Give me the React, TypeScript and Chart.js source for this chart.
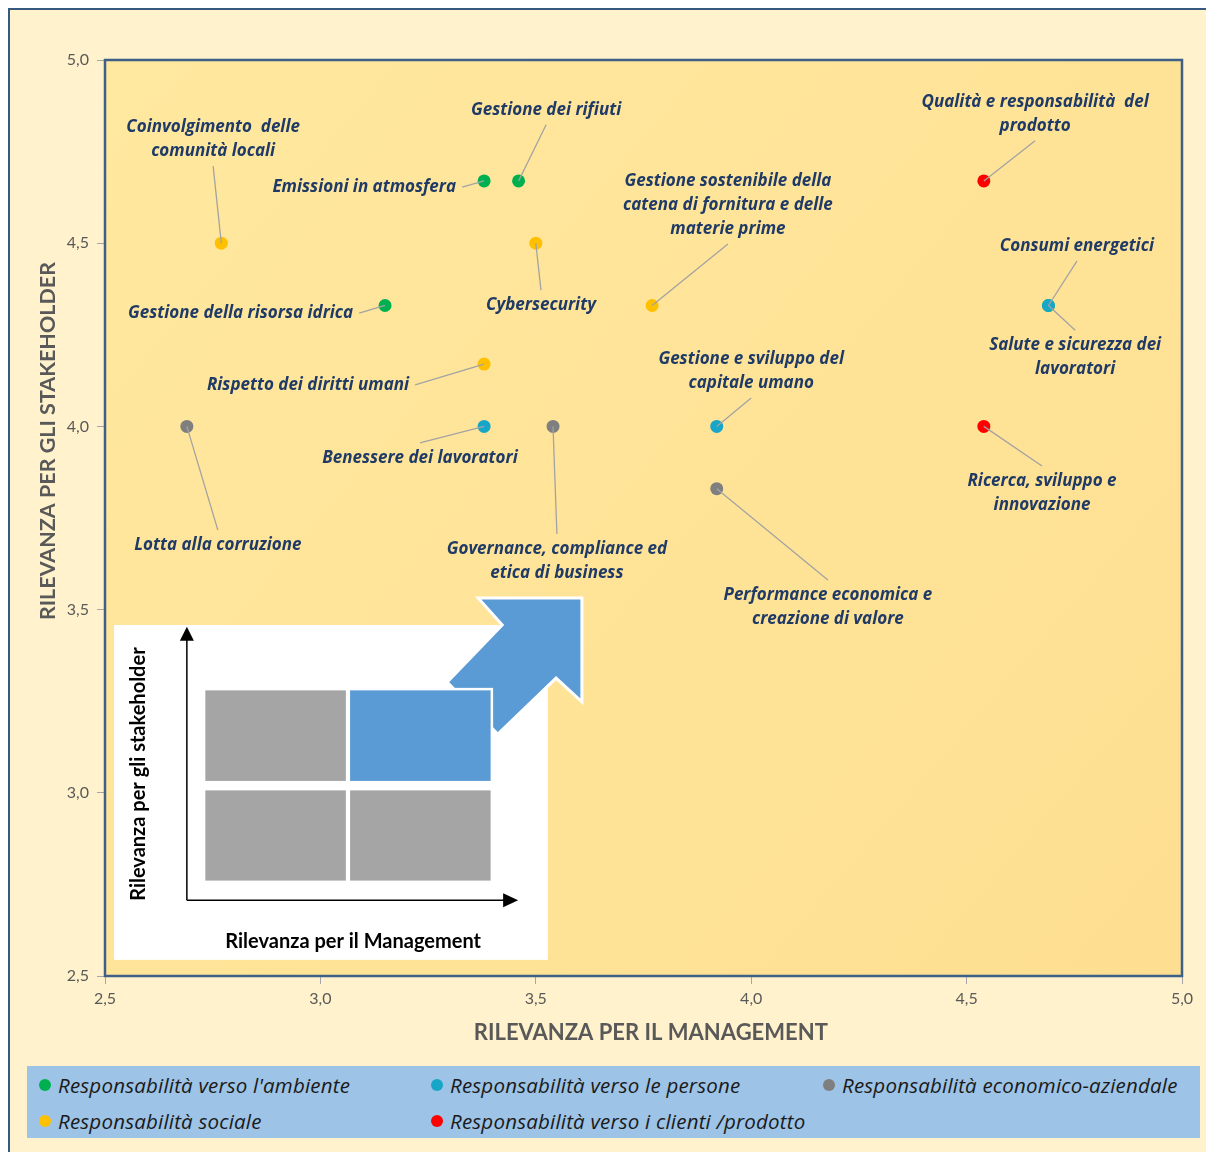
import React, { useEffect, useRef } from "react";
import { Chart, registerables } from "chart.js";

Chart.register(...registerables);

// ---- axis ----
const axisMin = 2.5;
const axisMax = 5.0;
const axisStep = 0.5;
const xAxisTitle = "RILEVANZA PER IL MANAGEMENT";
const yAxisTitle = "RILEVANZA PER GLI STAKEHOLDER";

// ---- series ----
const seriesNames = [
  "Responsabilità verso l'ambiente",
  "Responsabilità verso le persone",
  "Responsabilità economico-aziendale",
  "Responsabilità sociale",
  "Responsabilità verso i clienti /prodotto",
];
const seriesColors = ["#00B050", "#17A6C8", "#7F7F7F", "#FFC000", "#FF0000"];

const ambienteTopics = ["Emissioni in atmosfera", "Gestione dei rifiuti", "Gestione della risorsa idrica", "Consumi energetici"];
const ambienteX = [3.38, 3.46, 3.15, 4.69];
const ambienteY = [4.67, 4.67, 4.33, 4.33];

const personeTopics = ["Salute e sicurezza dei\nlavoratori", "Benessere dei lavoratori", "Gestione e sviluppo del\ncapitale umano"];
const personeX = [4.69, 3.38, 3.92];
const personeY = [4.33, 4.0, 4.0];

const economicoTopics = ["Lotta alla corruzione", "Governance, compliance ed\netica di business", "Performance economica e\ncreazione di valore"];
const economicoX = [2.69, 3.54, 3.92];
const economicoY = [4.0, 4.0, 3.83];

const socialeTopics = ["Coinvolgimento  delle\ncomunità locali", "Cybersecurity", "Gestione sostenibile della\ncatena di fornitura e delle\nmaterie prime", "Rispetto dei diritti umani"];
const socialeX = [2.77, 3.5, 3.77, 3.38];
const socialeY = [4.5, 4.5, 4.33, 4.17];

const clientiTopics = ["Qualità e responsabilità  del\nprodotto", "Ricerca, sviluppo e\ninnovazione"];
const clientiX = [4.54, 4.54];
const clientiY = [4.67, 4.0];

const seriesTopics = [ambienteTopics, personeTopics, economicoTopics, socialeTopics, clientiTopics];
const seriesX = [ambienteX, personeX, economicoX, socialeX, clientiX];
const seriesY = [ambienteY, personeY, economicoY, socialeY, clientiY];

// ---- label placement (data coordinates; side = where the leader line leaves the text) ----
const labelPlacement: { topic: string; lx: number; ly: number; side: "top" | "bottom" | "right" }[] = [
  { topic: "Coinvolgimento  delle\ncomunità locali", lx: 2.751, ly: 4.784, side: "bottom" },
  { topic: "Emissioni in atmosfera", lx: 3.315, ly: 4.653, side: "right" },
  { topic: "Gestione dei rifiuti", lx: 3.524, ly: 4.864, side: "bottom" },
  { topic: "Gestione sostenibile della\ncatena di fornitura e delle\nmaterie prime", lx: 3.946, ly: 4.604, side: "bottom" },
  { topic: "Qualità e responsabilità  del\nprodotto", lx: 4.659, ly: 4.853, side: "bottom" },
  { topic: "Consumi energetici", lx: 4.756, ly: 4.492, side: "bottom" },
  { topic: "Cybersecurity", lx: 3.512, ly: 4.331, side: "top" },
  { topic: "Gestione della risorsa idrica", lx: 3.076, ly: 4.309, side: "right" },
  { topic: "Salute e sicurezza dei\nlavoratori", lx: 4.752, ly: 4.189, side: "top" },
  { topic: "Rispetto dei diritti umani", lx: 3.206, ly: 4.113, side: "right" },
  { topic: "Gestione e sviluppo del\ncapitale umano", lx: 4.0, ly: 4.151, side: "bottom" },
  { topic: "Benessere dei lavoratori", lx: 3.231, ly: 3.914, side: "top" },
  { topic: "Lotta alla corruzione", lx: 2.762, ly: 3.676, side: "top" },
  { topic: "Governance, compliance ed\netica di business", lx: 3.549, ly: 3.633, side: "top" },
  { topic: "Ricerca, sviluppo e\ninnovazione", lx: 4.675, ly: 3.818, side: "top" },
  { topic: "Performance economica e\ncreazione di valore", lx: 4.178, ly: 3.507, side: "top" },
];

// ---- inset legend graphic ----
const insetTitleX = "Rilevanza per il Management";
const insetTitleY = "Rilevanza per gli stakeholder";

const fmt = (v: number) => v.toFixed(1).replace(".", ",");

const LABEL_FONT = "italic 700 17px 'Open Sans'";
const LABEL_COLOR = "#1F3A66";
const LINE_H = 24;

const decorPlugin = {
  id: "decor",
  beforeDraw(chart: any) {
    const { ctx, chartArea: a } = chart;
    ctx.save();
    const g = ctx.createLinearGradient(a.left, a.top, a.right, a.bottom);
    g.addColorStop(0, "#FFE89F");
    g.addColorStop(1, "#FEDF91");
    ctx.fillStyle = g;
    ctx.fillRect(a.left, a.top, a.right - a.left, a.bottom - a.top);
    ctx.restore();
  },
  beforeDatasetsDraw(chart: any) {
    const { ctx } = chart;
    const X = (v: number) => chart.scales.x.getPixelForValue(v);
    const Y = (v: number) => chart.scales.y.getPixelForValue(v);
    ctx.save();
    // white box
    ctx.fillStyle = "#FFFFFF";
    ctx.fillRect(X(2.521), Y(3.458), X(3.528) - X(2.521), Y(2.544) - Y(3.458));
    // big arrow (behind the quadrants)
    const poly: [number, number][] = [
      [3.366, 3.532],
      [3.607, 3.532],
      [3.607, 3.248],
      [3.547, 3.313],
      [3.412, 3.16],
      [3.294, 3.302],
      [3.422, 3.458],
    ];
    ctx.beginPath();
    poly.forEach(([px, py], i) => (i ? ctx.lineTo(X(px), Y(py)) : ctx.moveTo(X(px), Y(py))));
    ctx.closePath();
    ctx.fillStyle = "#5B9BD5";
    ctx.fill();
    ctx.strokeStyle = "#FFFFFF";
    ctx.lineWidth = 3;
    ctx.lineJoin = "miter";
    ctx.stroke();
    // quadrants
    const cells: [number, number, number, number, string][] = [
      [2.73, 3.062, 3.029, 3.283, "#A5A5A5"],
      [3.066, 3.398, 3.029, 3.283, "#5B9BD5"],
      [2.73, 3.062, 2.757, 3.01, "#A5A5A5"],
      [3.066, 3.398, 2.757, 3.01, "#A5A5A5"],
    ];
    cells.forEach(([x0, x1, y0, y1, c]) => {
      ctx.fillStyle = c;
      ctx.strokeStyle = "#FFFFFF";
      ctx.lineWidth = 2.5;
      ctx.fillRect(X(x0), Y(y1), X(x1) - X(x0), Y(y0) - Y(y1));
      ctx.strokeRect(X(x0), Y(y1), X(x1) - X(x0), Y(y0) - Y(y1));
    });
    // axes arrows
    const ox = X(2.69), oy = Y(2.707);
    const topY = Y(3.453), endX = X(3.459);
    ctx.strokeStyle = "#000";
    ctx.fillStyle = "#000";
    ctx.lineWidth = 1.5;
    ctx.beginPath();
    ctx.moveTo(ox, oy);
    ctx.lineTo(ox, topY + 12);
    ctx.moveTo(ox, oy);
    ctx.lineTo(endX - 12, oy);
    ctx.stroke();
    ctx.beginPath();
    ctx.moveTo(ox, topY);
    ctx.lineTo(ox - 7, topY + 14);
    ctx.lineTo(ox + 7, topY + 14);
    ctx.closePath();
    ctx.fill();
    ctx.beginPath();
    ctx.moveTo(endX, oy);
    ctx.lineTo(endX - 15, oy - 7);
    ctx.lineTo(endX - 15, oy + 7);
    ctx.closePath();
    ctx.fill();
    // inset texts
    ctx.font = "700 20px Lato";
    ctx.textAlign = "center";
    ctx.textBaseline = "middle";
    ctx.fillText(insetTitleX, X(3.076), Y(2.593));
    ctx.save();
    ctx.translate(X(2.579), Y(3.051));
    ctx.rotate(-Math.PI / 2);
    ctx.fillText(insetTitleY, 0, 0);
    ctx.restore();
    ctx.restore();
  },
  afterDatasetsDraw(chart: any) {
    const { ctx } = chart;
    const X = (v: number) => chart.scales.x.getPixelForValue(v);
    const Y = (v: number) => chart.scales.y.getPixelForValue(v);
    ctx.save();
    ctx.font = LABEL_FONT;
    seriesTopics.forEach((topics, si) => {
      topics.forEach((topic, i) => {
        const p = labelPlacement.find((l) => l.topic === topic);
        if (!p) return;
        const lines = topic.split("\n");
        const cx = X(p.lx), cy = Y(p.ly);
        const n = lines.length;
        const firstY = cy - ((n - 1) * LINE_H) / 2;
        const lastY = cy + ((n - 1) * LINE_H) / 2;
        let sx = cx, sy = cy;
        if (p.side === "bottom") sy = lastY + 15;
        else if (p.side === "top") sy = firstY - 15;
        else sx = cx + 6;
        const px = X(seriesX[si][i]), py = Y(seriesY[si][i]);
        ctx.strokeStyle = "#A3A3A3";
        ctx.lineWidth = 1.3;
        ctx.beginPath();
        ctx.moveTo(sx, sy);
        ctx.lineTo(px, py);
        ctx.stroke();
        ctx.fillStyle = LABEL_COLOR;
        ctx.textBaseline = "middle";
        ctx.textAlign = p.side === "right" ? "right" : "center";
        lines.forEach((ln, k) => ctx.fillText(ln, cx, firstY + k * LINE_H));
      });
    });
    ctx.restore();
  },
  afterDraw(chart: any) {
    const { ctx, chartArea: a } = chart;
    const X = (v: number) => chart.scales.x.getPixelForValue(v);
    const Y = (v: number) => chart.scales.y.getPixelForValue(v);
    ctx.save();
    ctx.strokeStyle = "#3E5F86";
    ctx.lineWidth = 2.5;
    ctx.strokeRect(a.left, a.top, a.right - a.left, a.bottom - a.top);
    ctx.fillStyle = "#595959";
    ctx.font = "700 22px Lato";
    ctx.textAlign = "center";
    ctx.textBaseline = "middle";
    ctx.fillText(xAxisTitle, X(3.767), a.bottom + 57);
    ctx.font = "700 21.5px Lato";
    ctx.translate(a.left - 57, Y(3.96));
    ctx.rotate(-Math.PI / 2);
    ctx.fillText(yAxisTitle, 0, 0);
    ctx.restore();
  },
};

export default function App() {
  const ref = useRef<HTMLCanvasElement | null>(null);

  useEffect(() => {
    if (!ref.current) return;
    const datasets = seriesNames.map((name, si) => ({
      label: name,
      data: seriesX[si].map((x, i) => ({ x, y: seriesY[si][i] })),
      backgroundColor: seriesColors[si],
      borderColor: seriesColors[si],
      borderWidth: 0,
      pointRadius: 6.5,
      pointHoverRadius: 6.5,
      order: seriesNames.length - si,
    }));
    const tickFont = { family: "Lato", size: 16 };
    const chart = new Chart(ref.current, {
      type: "scatter",
      data: { datasets },
      options: {
        responsive: false,
        animation: false,
        events: [],
        layout: { padding: { top: 50, right: 29, left: 0, bottom: 136 } },
        plugins: { legend: { display: false }, tooltip: { enabled: false } },
        scales: {
          x: {
            type: "linear",
            min: axisMin,
            max: axisMax,
            ticks: { stepSize: axisStep, callback: (v: any) => fmt(Number(v)), color: "#595959", font: tickFont, padding: 5 },
            grid: { drawOnChartArea: false, drawTicks: true, tickLength: 8, color: "#A6A6A6" },
            border: { display: false },
            afterFit: (s: any) => {
              s.height = 40;
            },
          },
          y: {
            type: "linear",
            min: axisMin,
            max: axisMax,
            ticks: { stepSize: axisStep, callback: (v: any) => fmt(Number(v)), color: "#595959", font: tickFont, padding: 8 },
            grid: { drawOnChartArea: false, drawTicks: true, tickLength: 8, color: "#A6A6A6" },
            border: { display: false },
            afterFit: (s: any) => {
              s.width = 95;
            },
          },
        },
      },
      plugins: [decorPlugin],
    } as any);
    return () => chart.destroy();
  }, []);

  return (
    <div
      style={{
        position: "relative",
        boxSizing: "border-box",
        width: 1205,
        height: 1144,
        border: "2px solid #36597F",
        borderBottom: "none",
        background: "#FFF2CC",
      }}
    >
      <canvas ref={ref} width={1201} height={1142} style={{ display: "block", width: 1201, height: 1142 }} />
      <div
        style={{
          position: "absolute",
          left: 17,
          top: 1056,
          width: 1173,
          height: 72,
          boxSizing: "border-box",
          paddingLeft: 12,
          paddingTop: 1,
          background: "#9DC3E6",
          display: "grid",
          gridTemplateColumns: "392px 392px 377px",
          gridAutoRows: "36px",
          alignItems: "center",
        }}
      >
        {seriesNames.map((name, i) => (
          <div
            key={name}
            style={{
              display: "flex",
              alignItems: "center",
              font: "italic 20.5px 'Open Sans'",
              letterSpacing: "0.2px",
              color: "#1A1A1A",
              whiteSpace: "nowrap",
            }}
          >
            <span
              style={{
                display: "inline-block",
                width: 12,
                height: 12,
                borderRadius: "50%",
                background: seriesColors[i],
                marginRight: 7,
                flex: "none",
              }}
            />
            {name}
          </div>
        ))}
      </div>
    </div>
  );
}
